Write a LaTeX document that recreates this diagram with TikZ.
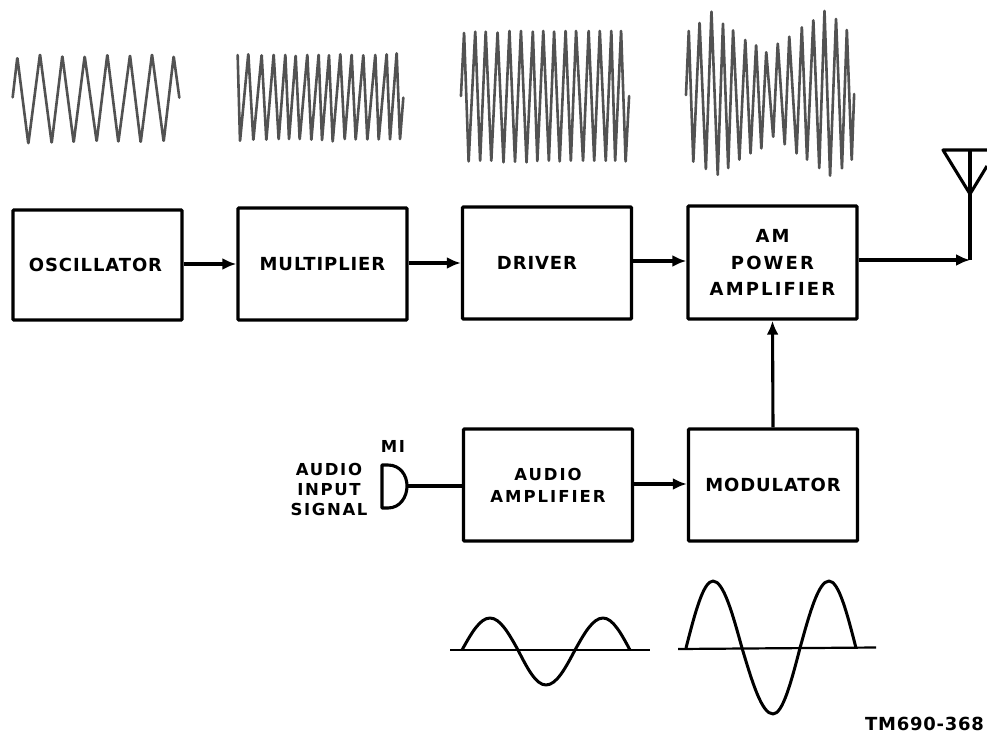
\documentclass[tikz,border=0pt]{standalone}
\usepackage{fontspec}
\usetikzlibrary{arrows.meta,calc}
\newfontfamily\lblA{DejaVu Sans Bold}[LetterSpace=5]
\newfontfamily\lblB{DejaVu Sans Bold}[LetterSpace=10]
\newfontfamily\lblC{DejaVu Sans Bold}[LetterSpace=12]
\newfontfamily\lblD{DejaVu Sans Bold}[LetterSpace=4]
\tikzset{
  blockbox/.style={draw=black,line width=3.4pt,rounded corners=1pt,inner sep=0pt,minimum width=169pt,minimum height=112pt,align=center,font=\fontsize{18}{26.5}\lblA},
  wire/.style={draw=black,line width=3.1pt,line join=round},
  flow/.style={wire,-{Latex[length=14pt,width=12pt]}},
  wave/.style={draw=black!68,line width=2.6pt,line join=round,line cap=round,rounded corners=1pt},
  sinewave/.style={draw=black,line width=3pt,line join=round},
  axisline/.style={draw=black,line width=2.2pt},
  plainlabel/.style={inner sep=0pt,align=center,font=\fontsize{16.5}{20}\lblB}
}
\begin{document}
\begin{tikzpicture}[x=1pt,y=-1pt]
\useasboundingbox (0,0) rectangle (987,734);
% waves
\begin{scope}[x=0.33333pt,y=-0.33333pt]
\draw[wave] (38,292) -- (52,172) -- (85,432) -- (120,162) -- (155,430) -- (187,167) -- (221,428) -- (254,168) -- (290,425) -- (322,163) -- (355,427) -- (390,165) -- (422,428) -- (456,162) -- (491,425) -- (521,168) -- (538,293);
\draw[wave] (713,165) -- (720,425) -- (745,160) -- (760,422) -- (785,163) -- (799,422) -- (821,162) -- (836,420) -- (856,162) -- (867,420) -- (887,165) -- (899,420) -- (922,162) -- (934,422) -- (956,162) -- (966,423) -- (987,163) -- (998,427) -- (1021,160) -- (1034,420) -- (1055,162) -- (1067,421) -- (1090,163) -- (1102,421) -- (1126,162) -- (1136,421) -- (1160,160) -- (1170,421) -- (1190,157) -- (1200,420) -- (1210,293);
\end{scope}
\begin{scope}[shift={(440pt,0pt)},x=0.3489pt,y=-0.33333pt]
\draw[wave] (60,288) -- (69,96) -- (82,487) -- (101,92) -- (115,485) -- (131,92) -- (147,485) -- (165,95) -- (182,490) -- (199,90) -- (215,488) -- (232,90) -- (248,490) -- (266,92) -- (279,486) -- (296,90) -- (312,485) -- (327,92) -- (343,487) -- (360,90) -- (375,485) -- (390,90) -- (410,485) -- (426,90) -- (442,485) -- (458,90) -- (475,485) -- (491,90) -- (502,485) -- (519,90) -- (532,487) -- (542,288);
\draw[wave] (705,285) -- (713,90) -- (726,488) -- (744,66) -- (762,510) -- (778,32) -- (796,527) -- (811,68) -- (826,507) -- (840,88) -- (858,482) -- (875,117) -- (890,463) -- (906,133) -- (921,448) -- (935,154) -- (955,413) -- (968,128) -- (988,436) -- (1001,107) -- (1022,463) -- (1037,79) -- (1052,482) -- (1070,58) -- (1087,507) -- (1102,30) -- (1118,530) -- (1135,54) -- (1152,508) -- (1166,87) -- (1180,482) -- (1187,282);
\end{scope}
% blocks
\node[blockbox,minimum height=110pt] (osc) at (97.5,265) {\hspace*{-4pt}OSCILLATOR};
\node[blockbox] (mul) at (322.5,264) {MULTIPLIER};
\node[blockbox] (drv) at (547,263) {\hspace*{-20pt}DRIVER};
\node[blockbox,minimum height=113pt,font=\fontsize{18}{26.5}\lblC] (amp) at (772.5,262.5) {AM\\POWER\\AMPLIFIER};
\node[blockbox,font=\fontsize{16.5}{22}\lblC] (aud) at (548,485) {AUDIO\\AMPLIFIER};
\node[blockbox] (mod) at (773,485) {MODULATOR};
% antenna
\coordinate (antbase) at (970,260);
\coordinate (antapex) at (970,194);
\coordinate (anttop) at (970,150);
\coordinate (antleft) at (943,150);
\coordinate (antright) at (987,150);
\coordinate (antrightleg) at (987,166);
\draw[wire] (antbase) -- (anttop);
\draw[wire] (antright) -- (antleft) -- (antapex) -- (antrightleg);
% connectors
\draw[flow] (osc.east |- 0,264) -- (mul.west |- 0,264);
\draw[flow] (mul.east |- 0,263) -- (drv.west |- 0,263);
\draw[flow] (drv.east |- 0,261) -- (amp.west |- 0,261);
\draw[flow] (amp.east |- antbase) -- (antbase);
\draw[flow] (mod.north) -- (amp.south);
\draw[flow] (aud.east |- 0,484) -- (mod.west |- 0,484);
% microphone
\coordinate (mic) at (407,486);
\draw[wire] (382,465) -- (388,465) .. controls (400,465) and (407,475) .. (mic) .. controls (407,497) and (400,508) .. (388,508) -- (382,508) -- cycle;
\draw[wire] (mic) -- (aud.west |- mic);
\node[plainlabel] (audio) at (329,489) {AUDIO\\INPUT\\SIGNAL};
\node[plainlabel] (mi) at (393,446) {MI};
% sine waves
\draw[axisline] (450,650) -- (650,650);
\draw[sinewave] (462,650) sin (490,618) cos (518,650) sin (546,685) cos (575,650) sin (603,618) cos (630,650);
\draw[axisline] (678,649) -- (876,647.5);
\draw[sinewave] (686,648) sin (713,581) cos (742,648) sin (773,714) cos (800,648) sin (829,581) cos (856,648);
\node[inner sep=0pt,font=\fontsize{18}{20}\lblD,anchor=east] (tm) at (984,724) {TM690-368};
\end{tikzpicture}
\end{document}
